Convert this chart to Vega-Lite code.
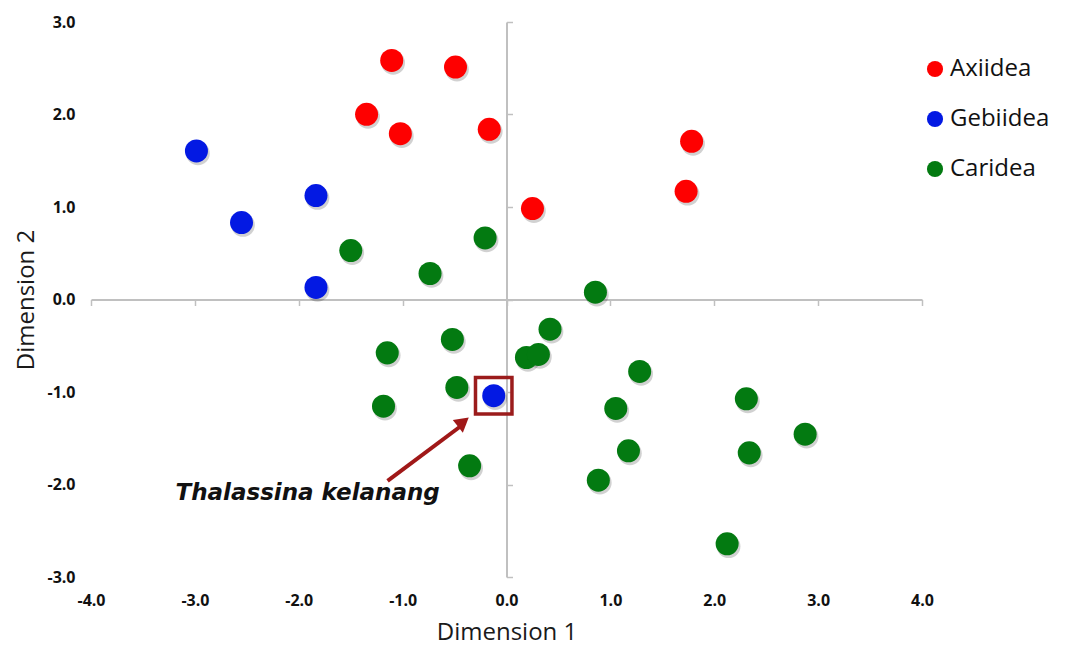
{
  "$schema": "https://vega.github.io/schema/vega-lite/v6.json",
  "width": 831,
  "height": 555,
  "autosize": {"type": "none"},
  "padding": {"left": 91, "top": 22, "right": 147, "bottom": 70},
  "background": "white",
  "config": {
    "view": {"stroke": null},
    "font": "Open Sans",
    "axis": {"grid": false, "labelFlush": false, "labelOverlap": false}
  },
  "datasets": {
    "pts": [
      {"d1": -1.105, "d2": 2.585, "group": "Axiidea"},
      {"d1": -0.491, "d2": 2.513, "group": "Axiidea"},
      {"d1": -1.347, "d2": 2.002, "group": "Axiidea"},
      {"d1": -1.022, "d2": 1.793, "group": "Axiidea"},
      {"d1": -0.166, "d2": 1.840, "group": "Axiidea"},
      {"d1": 0.250, "d2": 0.983, "group": "Axiidea"},
      {"d1": 1.782, "d2": 1.710, "group": "Axiidea"},
      {"d1": 1.729, "d2": 1.170, "group": "Axiidea"},
      {"d1": -2.985, "d2": 1.606, "group": "Gebiidea"},
      {"d1": -1.834, "d2": 1.124, "group": "Gebiidea"},
      {"d1": -2.551, "d2": 0.832, "group": "Gebiidea"},
      {"d1": -1.834, "d2": 0.130, "group": "Gebiidea"},
      {"d1": -0.123, "d2": -1.040, "group": "Gebiidea"},
      {"d1": -1.499, "d2": 0.529, "group": "Caridea"},
      {"d1": -0.736, "d2": 0.281, "group": "Caridea"},
      {"d1": -0.206, "d2": 0.666, "group": "Caridea"},
      {"d1": 0.856, "d2": 0.079, "group": "Caridea"},
      {"d1": -0.521, "d2": -0.432, "group": "Caridea"},
      {"d1": -1.148, "d2": -0.577, "group": "Caridea"},
      {"d1": -0.478, "d2": -0.951, "group": "Caridea"},
      {"d1": -1.184, "d2": -1.153, "group": "Caridea"},
      {"d1": -0.355, "d2": -1.798, "group": "Caridea"},
      {"d1": 0.419, "d2": -0.321, "group": "Caridea"},
      {"d1": 0.192, "d2": -0.627, "group": "Caridea"},
      {"d1": 0.307, "d2": -0.594, "group": "Caridea"},
      {"d1": 1.282, "d2": -0.778, "group": "Caridea"},
      {"d1": 1.052, "d2": -1.178, "group": "Caridea"},
      {"d1": 2.309, "d2": -1.074, "group": "Caridea"},
      {"d1": 2.875, "d2": -1.456, "group": "Caridea"},
      {"d1": 1.174, "d2": -1.636, "group": "Caridea"},
      {"d1": 2.337, "d2": -1.658, "group": "Caridea"},
      {"d1": 0.884, "d2": -1.953, "group": "Caridea"},
      {"d1": 2.124, "d2": -2.641, "group": "Caridea"}
    ],
    "box": [{"d1": -0.123, "d2": -1.040}],
    "arrow": [{"d1": -1.145, "d2": -1.960, "e1": -0.40, "e2": -1.335}],
    "head": [{"d1": -0.416, "d2": -1.324}],
    "label": [{"d1": -3.187, "d2": -2.171, "text": "Thalassina kelanang"}]
  },
  "resolve": {"axis": {"x": "independent", "y": "independent"}},
  "layer": [
    {
      "data": {"name": "pts"},
      "mark": {"type": "circle", "opacity": 0.18, "color": "#000000", "size": 560, "xOffset": 1.5, "yOffset": 2.5},
      "encoding": {
        "x": {"field": "d1", "type": "quantitative", "scale": {"domain": [-4, 4], "nice": false, "zero": false},
          "axis": {"orient": "bottom", "offset": -277.5, "labels": false, "title": null, "values": [-4, -3, -2, -1, 0, 1, 2, 3, 4],
            "domainColor": "#c0c0c0", "domainWidth": 2, "tickColor": "#c0c0c0", "tickWidth": 1.5, "tickSize": 6}},
        "y": {"field": "d2", "type": "quantitative", "scale": {"domain": [-3, 3], "nice": false, "zero": false},
          "axis": {"orient": "left", "offset": -415.5, "labels": false, "title": null, "values": [-3, -2, -1, 0, 1, 2, 3],
            "domainColor": "#c0c0c0", "domainWidth": 2, "tickColor": "#c0c0c0", "tickWidth": 1.5, "tickSize": -6}}
      }
    },
    {
      "data": {"name": "pts"},
      "mark": {"type": "circle", "opacity": 1, "size": 530},
      "encoding": {
        "x": {"field": "d1", "type": "quantitative", "scale": {"domain": [-4, 4], "nice": false, "zero": false},
          "axis": {"orient": "bottom", "title": "Dimension 1", "values": [-4, -3, -2, -1, 0, 1, 2, 3, 4],
            "labelExpr": "replace(format(datum.value, '.1f'), '\u2212', '-')", "labelFlush": false,
            "domain": false, "ticks": false, "tickSize": 0, "labelPadding": 15, "labelFontSize": 16, "labelFontWeight": "bold", "labelColor": "#111111",
            "titleFontSize": 24, "titleFontWeight": "normal", "titleColor": "#1a1a1a", "titlePadding": 12}},
        "y": {"field": "d2", "type": "quantitative", "scale": {"domain": [-3, 3], "nice": false, "zero": false},
          "axis": {"orient": "left", "title": "Dimension 2", "values": [-3, -2, -1, 0, 1, 2, 3],
            "labelExpr": "replace(format(datum.value, '.1f'), '\u2212', '-')", "labelFlush": false,
            "domain": false, "ticks": false, "tickSize": 0, "labelPadding": 16, "labelFontSize": 16, "labelFontWeight": "bold", "labelColor": "#111111",
            "titleFontSize": 24, "titleFontWeight": "normal", "titleColor": "#1a1a1a", "titlePadding": 8}},
        "color": {"field": "group", "type": "nominal",
          "scale": {"domain": ["Axiidea", "Gebiidea", "Caridea"], "range": ["#fe0000", "#0319e3", "#037a11"]},
          "legend": {"title": null, "orient": "none", "legendX": 832, "legendY": 35, "padding": 0,
            "symbolType": "circle", "symbolSize": 260, "symbolOpacity": 1, "labelFontSize": 24, "labelColor": "#111111",
            "labelOffset": 3, "rowPadding": 26}}
      }
    },
    {
      "data": {"name": "box"},
      "mark": {"type": "square", "filled": false, "size": 1330, "stroke": "#9b1c1c", "strokeWidth": 3.5, "opacity": 1},
      "encoding": {
        "x": {"field": "d1", "type": "quantitative", "axis": null},
        "y": {"field": "d2", "type": "quantitative", "axis": null}
      }
    },
    {
      "data": {"name": "arrow"},
      "mark": {"type": "rule", "stroke": "#a01818", "strokeWidth": 4},
      "encoding": {
        "x": {"field": "d1", "type": "quantitative", "axis": null},
        "y": {"field": "d2", "type": "quantitative", "axis": null},
        "x2": {"field": "e1"},
        "y2": {"field": "e2"}
      }
    },
    {
      "data": {"name": "head"},
      "mark": {"type": "point", "shape": "triangle-up", "filled": true, "size": 260, "angle": 51.5, "color": "#a01818", "opacity": 1},
      "encoding": {
        "x": {"field": "d1", "type": "quantitative", "axis": null},
        "y": {"field": "d2", "type": "quantitative", "axis": null}
      }
    },
    {
      "data": {"name": "label"},
      "mark": {"type": "text", "font": "DejaVu Sans", "fontSize": 23, "fontWeight": "bold", "fontStyle": "italic", "align": "left", "baseline": "alphabetic", "color": "#111111"},
      "encoding": {
        "x": {"field": "d1", "type": "quantitative", "axis": null},
        "y": {"field": "d2", "type": "quantitative", "axis": null},
        "text": {"field": "text"}
      }
    }
  ]
}
